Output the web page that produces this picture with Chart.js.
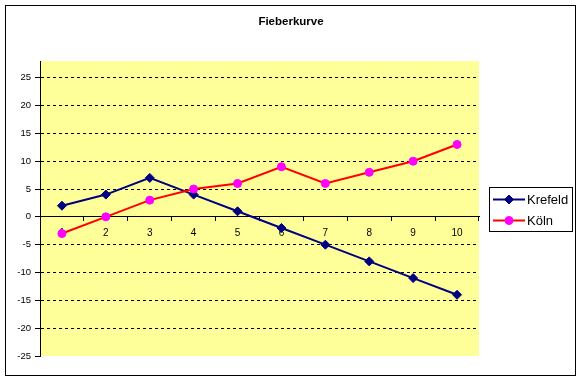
<!DOCTYPE html>
<html><head><meta charset="utf-8">
<script src="https://cdn.jsdelivr.net/npm/chart.js@4/dist/chart.umd.min.js"></script>
<style>html,body{margin:0;padding:0;background:#fff;}#wrap{width:582px;height:381px;position:relative;}</style>
</head><body><div id="wrap"><canvas id="c" width="582" height="381"></canvas></div>
<script>
const chartTitle = 'Fieberkurve';
const categories = ['1','2','3','4','5','6','7','8','9','10'];
const seriesNames = ['Krefeld','Köln'];
const krefeld = [2,4,7,4,1,-2,-5,-8,-11,-14];
const koeln = [-3,0,3,5,6,9,6,8,10,13];
const yTicks = [-25,-20,-15,-10,-5,0,5,10,15,20,25];
const yMin = -25, yMax = 28;

const FAM = '"Liberation Sans", Arial, sans-serif';

const decor = {
  id: 'decor',
  beforeDraw(chart) {
    const {ctx, chartArea: a, width} = chart;
    ctx.save();
    ctx.fillStyle = '#fff';
    ctx.fillRect(0, 0, chart.width, chart.height);
    ctx.fillStyle = '#FFFF99';
    ctx.fillRect(a.left, a.top, a.right - a.left, a.bottom - a.top);
    ctx.strokeStyle = '#000';
    ctx.lineWidth = 1;
    ctx.strokeRect(5.5, 5.5, 570, 370);
    ctx.fillStyle = '#000';
    ctx.font = 'bold 11.5px ' + FAM;
    ctx.textAlign = 'center';
    ctx.textBaseline = 'middle';
    ctx.fillText(chartTitle, width / 2, 22);
    ctx.restore();
  },
  afterDraw(chart) {
    const {ctx, chartArea: a} = chart;
    const bw = 83, bh = 44;
    const bx = Math.round(a.right + 10);
    const by = Math.round((a.top + a.bottom) / 2 - bh / 2);
    ctx.save();
    ctx.fillStyle = '#fff';
    ctx.fillRect(bx, by, bw, bh);
    ctx.strokeStyle = '#000';
    ctx.lineWidth = 1;
    ctx.strokeRect(bx + 0.5, by + 0.5, bw, bh);
    chart.data.datasets.forEach((ds, i) => {
      const y = by + 12.5 + i * 21;
      ctx.strokeStyle = ds.borderColor;
      ctx.lineWidth = 2;
      ctx.beginPath();
      ctx.moveTo(bx + 4, y);
      ctx.lineTo(bx + 36, y);
      ctx.stroke();
      ctx.fillStyle = ds.pointBackgroundColor;
      ctx.strokeStyle = ds.pointBorderColor;
      ctx.lineWidth = 1;
      const cx = bx + 20, r = ds.pointRadius;
      ctx.beginPath();
      if (ds.pointStyle === 'rectRot') {
        ctx.moveTo(cx, y - r); ctx.lineTo(cx + r, y); ctx.lineTo(cx, y + r); ctx.lineTo(cx - r, y); ctx.closePath();
      } else {
        ctx.arc(cx, y, r, 0, Math.PI * 2);
      }
      ctx.fill(); ctx.stroke();
      ctx.fillStyle = '#000';
      ctx.font = '13px ' + FAM;
      ctx.textAlign = 'left';
      ctx.textBaseline = 'middle';
      ctx.fillText(ds.label, bx + 38, y + 0.5);
    });
    ctx.restore();
  }
};

new Chart(document.getElementById('c'), {
  type: 'line',
  data: {
    labels: categories,
    datasets: [
      {
        label: seriesNames[0], data: krefeld, order: 1,
        borderColor: '#000080', backgroundColor: '#000080', borderWidth: 2,
        pointStyle: 'rectRot', pointRadius: 4.5, pointBorderWidth: 1,
        pointBackgroundColor: '#000080', pointBorderColor: '#000080', tension: 0
      },
      {
        label: seriesNames[1], data: koeln, order: 0,
        borderColor: '#FF0000', backgroundColor: '#FF0000', borderWidth: 2,
        pointStyle: 'circle', pointRadius: 4, pointBorderWidth: 1,
        pointBackgroundColor: '#FF00FF', pointBorderColor: '#FF00FF', tension: 0
      }
    ]
  },
  options: {
    responsive: false,
    animation: false,
    devicePixelRatio: 1,
    events: [],
    layout: { padding: { left: 5, top: 61, right: 103, bottom: 25 } },
    plugins: { legend: { display: false }, title: { display: false }, tooltip: { enabled: false } },
    scales: {
      x: {
        type: 'category',
        position: { y: 0 },
        offset: true,
        grid: { display: true, drawOnChartArea: false, drawTicks: true, tickLength: 4, tickColor: '#000', tickWidth: 1, offset: true },
        border: { display: true, color: '#000', width: 1 },
        ticks: { color: '#000', font: { size: 10, family: FAM }, padding: 6, maxRotation: 0, autoSkip: false }
      },
      y: {
        min: yMin, max: yMax,
        afterBuildTicks: s => { s.ticks = yTicks.map(v => ({ value: v })); },
        afterFit: s => { s.width = 35; },
        grid: {
          color: c => (c.tick && (c.tick.value === 0 || c.tick.value === yMin)) ? 'rgba(0,0,0,0)' : '#000',
          lineWidth: 1, drawTicks: true, tickLength: 5, tickColor: '#000', tickWidth: 1
        },
        border: { display: true, color: '#000', width: 1, dash: [3, 3] },
        ticks: { color: '#000', font: { size: 9.5, family: FAM }, padding: 4 }
      }
    }
  },
  plugins: [decor]
});
</script>
</body></html>
